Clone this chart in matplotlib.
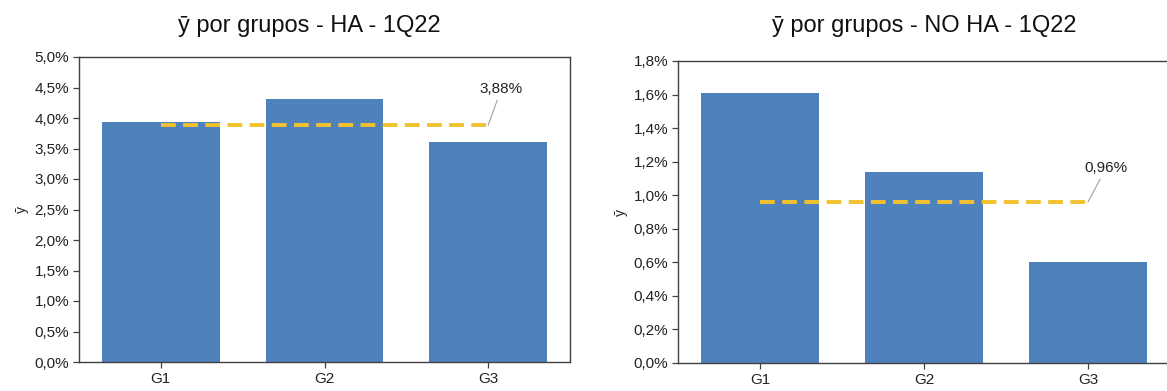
import matplotlib
matplotlib.use("Agg")
import matplotlib.pyplot as plt
from matplotlib.ticker import FuncFormatter, MultipleLocator

plt.rcParams['font.family'] = ['Liberation Sans', 'DejaVu Sans']

groups = ["G1", "G2", "G3"]

# HA panel
ha_values = [3.93, 4.31, 3.60]
ha_mean = 3.88
ha_title = "ȳ por grupos - HA - 1Q22"

# NO HA panel
noha_values = [1.61, 1.14, 0.60]
noha_mean = 0.96
noha_title = "ȳ por grupos - NO HA - 1Q22"

BAR_COLOR = "#4F81BD"
MEAN_COLOR = "#F2C12E"
TEXT_COLOR = "#222222"
SPINE_COLOR = "#404040"

W, H = 1167, 391
fig = plt.figure(figsize=(W / 100, H / 100), dpi=100)


def pct_fmt(v, _pos):
    return f"{v:.1f}%".replace(".", ",")


def draw_panel(rect, values, mean, ymax, ystep, label_xy, title, title_x):
    ax = fig.add_axes(rect)
    x = list(range(len(groups)))
    ax.bar(x, values, width=0.72, color=BAR_COLOR, zorder=2)
    ax.plot([x[0], x[-1]], [mean, mean], color=MEAN_COLOR, lw=2.8,
            linestyle=(0, (3.8, 1.9)), zorder=3)
    ax.annotate(f"{mean:.2f}%".replace(".", ","),
                xy=(x[-1], mean), xytext=label_xy,
                ha="center", va="bottom", fontsize=11, color=TEXT_COLOR,
                arrowprops=dict(arrowstyle="-", color="#A0A0A0", lw=0.8,
                                shrinkA=1, shrinkB=0))
    ax.set_xlim(-0.5, len(groups) - 0.5)
    ax.set_ylim(0, ymax)
    ax.yaxis.set_major_locator(MultipleLocator(ystep))
    ax.yaxis.set_major_formatter(FuncFormatter(pct_fmt))
    ax.set_xticks(x)
    ax.set_xticklabels(groups)
    ax.tick_params(axis="both", direction="out", length=4, width=0.9,
                   color=SPINE_COLOR, labelsize=11, labelcolor=TEXT_COLOR,
                   pad=3)
    for s in ax.spines.values():
        s.set_color(SPINE_COLOR)
        s.set_linewidth(1.0)
    ax.set_ylabel("ȳ", fontsize=10, color=TEXT_COLOR, labelpad=4)
    fig.text(title_x / W, 1 - 32 / H, title, ha="center", va="baseline",
             fontsize=17, color="#111111")
    return ax


draw_panel([79 / W, 29 / H, 491 / W, 305 / H], ha_values, ha_mean, 5.0, 0.5,
           (2.08, 4.36), ha_title, 309)
draw_panel([678 / W, 28 / H, 492 / W, 302 / H], noha_values, noha_mean, 1.8, 0.2,
           (2.11, 1.12), noha_title, 924)

fig.savefig("out.png", dpi=100)
